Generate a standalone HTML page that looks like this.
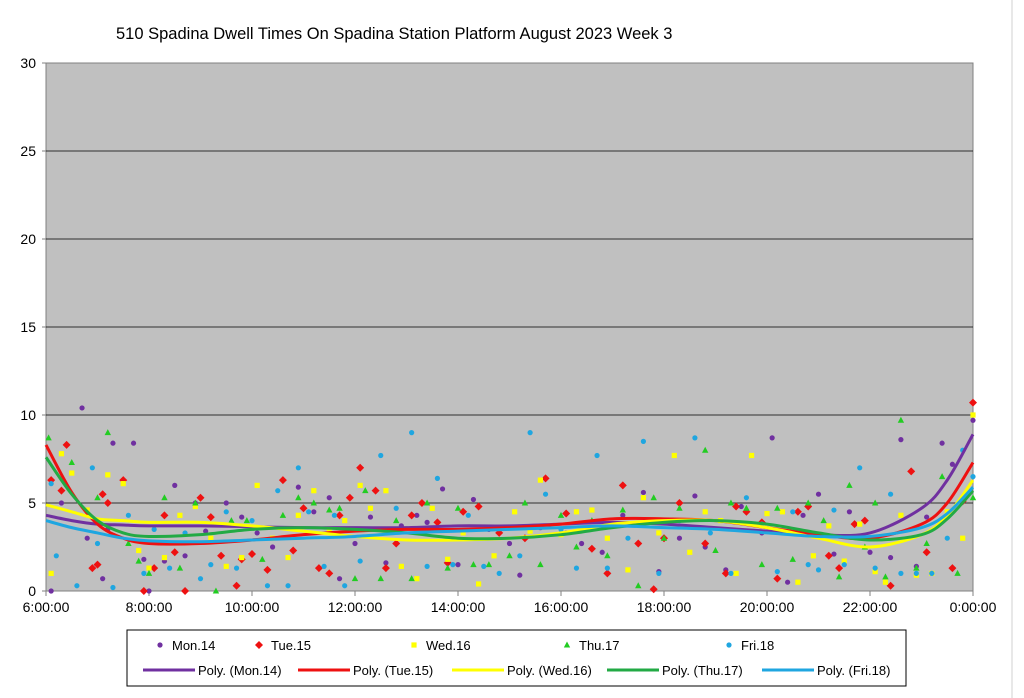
<!DOCTYPE html>
<html><head><meta charset="utf-8"><style>
body{margin:0;background:#fff;font-family:"Liberation Sans",Arial,sans-serif}
svg{display:block}
</style></head><body>
<svg id="chart" width="1024" height="698" viewBox="0 0 1024 698" xmlns="http://www.w3.org/2000/svg">
<rect x="0" y="0" width="1024" height="698" fill="#fff"/>
<line x1="1012" y1="0" x2="1012" y2="698" stroke="#d0d0d0"/>
<text x="116" y="39" font-size="16.5" fill="#000">510 Spadina Dwell Times On Spadina Station Platform August 2023  Week 3</text>
<rect x="46" y="63" width="927" height="528" fill="#c0c0c0" stroke="#808080"/>
<g id="grid"></g><g id="axes"></g><g id="points"></g><g id="trends"></g>
<g>
<rect x="127" y="630" width="779" height="56" fill="#fff" stroke="#000"/>
<g id="legend"></g>
</g>
</svg>
<script>
const yTicks=[0,5,10,15,20,25,30];
const xTickLabels=["6:00:00","8:00:00","10:00:00","12:00:00","14:00:00","16:00:00","18:00:00","20:00:00","22:00:00","0:00:00"];
const xTickHours=[6,8,10,12,14,16,18,20,22,24];
const seriesNames=["Mon.14","Tue.15","Wed.16","Thu.17","Fri.18"];
const monH=[6.1,6.3,6.7,6.8,7.1,7.2,7.3,7.7,7.9,8.0,8.3,8.5,8.7,8.9,9.1,9.5,9.8,10.1,10.4,10.9,11.2,11.5,11.7,12.0,12.3,12.6,12.9,13.2,13.4,13.7,14.0,14.3,14.6,15.0,15.2,15.6,16.1,16.4,16.8,17.2,17.6,17.9,18.3,18.6,18.8,19.2,19.5,19.9,20.1,20.4,20.7,21.0,21.3,21.6,22.0,22.4,22.6,22.9,23.1,23.4,23.6,23.8,24.0];
const monV=[0,5.0,10.4,3.0,0.7,3.5,8.4,8.4,1.8,0,1.7,6.0,2.0,5.0,3.4,5.0,4.2,3.3,2.5,5.9,4.5,5.3,0.7,2.7,4.2,1.6,3.7,4.3,3.9,5.8,1.5,5.2,3.5,2.7,0.9,3.6,3.3,2.7,2.2,4.3,5.6,1.1,3.0,5.4,2.5,1.2,4.8,3.3,8.7,0.5,4.3,5.5,2.1,4.5,2.2,1.9,8.6,1.4,4.2,8.4,7.2,5.1,9.7];
const tueH=[6.1,6.3,6.4,6.9,7.0,7.1,7.2,7.5,7.9,8.1,8.3,8.5,8.7,9.0,9.2,9.4,9.7,9.8,10.0,10.3,10.6,10.8,11.0,11.3,11.5,11.7,11.9,12.1,12.4,12.6,12.8,13.1,13.3,13.6,13.8,14.1,14.4,14.8,15.3,15.7,16.1,16.6,16.9,17.2,17.5,17.8,18.0,18.3,18.8,19.2,19.4,19.6,19.9,20.2,20.6,20.8,21.2,21.4,21.7,21.9,22.4,22.8,23.1,23.6,23.8,24.0];
const tueV=[6.3,5.7,8.3,1.3,1.5,5.5,5.0,6.3,0,1.3,4.3,2.2,0,5.3,4.2,2.0,0.3,1.8,2.1,1.2,6.3,2.3,4.7,1.3,1.0,4.3,5.3,7.0,5.7,1.3,2.7,4.3,5.0,3.9,1.6,4.5,4.8,3.3,3.0,6.4,4.4,2.4,1.0,6.0,2.7,0.1,3.0,5.0,2.7,1.0,4.8,4.5,3.9,0.7,4.5,4.8,2.0,1.3,3.8,4.0,0.3,6.8,2.2,1.3,5.1,10.7];
const wedH=[6.1,6.3,6.5,6.8,7.2,7.5,7.8,8.0,8.3,8.6,8.9,9.2,9.5,9.8,10.1,10.4,10.7,10.9,11.2,11.5,11.8,12.1,12.3,12.6,12.9,13.2,13.5,13.8,14.1,14.4,14.7,15.1,15.4,15.6,16.0,16.3,16.6,16.9,17.3,17.6,17.9,18.2,18.5,18.8,19.1,19.4,19.7,20.0,20.3,20.6,20.9,21.2,21.5,21.8,22.1,22.3,22.6,22.9,23.2,23.5,23.8,24.0];
const wedV=[1.0,7.8,6.7,4.6,6.6,6.1,2.3,1.3,1.9,4.3,4.8,3.0,1.4,1.9,6.0,3.0,1.9,4.3,5.7,3.4,4.0,6.0,4.7,5.7,1.4,0.7,4.7,1.8,3.3,0.4,2.0,4.5,3.4,6.3,3.2,4.5,4.6,3.0,1.2,5.3,3.3,7.7,2.2,4.5,4.0,1.0,7.7,4.4,4.5,0.5,2.0,3.7,1.7,3.8,1.1,0.5,4.3,0.9,1.0,4.5,3.0,10.0];
const thuH=[6.05,6.5,7.0,7.2,7.6,7.8,8.0,8.3,8.6,8.9,9.3,9.6,9.9,10.2,10.6,10.9,11.2,11.5,11.7,12.0,12.2,12.5,12.8,13.1,13.4,13.8,14.0,14.3,14.6,15.0,15.3,15.6,16.0,16.3,16.6,16.9,17.2,17.5,17.8,18.0,18.3,18.8,19.0,19.3,19.6,19.9,20.2,20.5,20.8,21.1,21.4,21.6,21.9,22.1,22.3,22.6,22.9,23.1,23.4,23.7,24.0];
const thuV=[8.7,7.3,5.3,9.0,2.7,1.7,1.0,5.3,1.3,5.0,0,4.0,4.0,1.8,4.3,5.3,5.0,4.6,4.7,0.7,5.7,0.7,4.0,0.7,5.0,1.3,4.7,1.5,1.5,2.0,5.0,1.5,4.3,2.5,4.0,2.0,4.6,0.3,5.3,3.0,4.7,8.0,2.3,5.0,4.7,1.5,4.7,1.8,5.0,4.0,0.8,6.0,2.5,5.0,0.8,9.7,1.3,2.7,6.5,1.0,5.3];
const friH=[6.1,6.2,6.6,6.9,7.0,7.3,7.6,7.9,8.1,8.4,8.7,9.0,9.2,9.5,9.7,10.0,10.3,10.5,10.7,10.9,11.1,11.4,11.6,11.8,12.1,12.5,12.8,13.1,13.4,13.6,13.9,14.2,14.5,14.8,15.2,15.4,15.7,16.0,16.3,16.7,16.9,17.3,17.6,17.9,18.3,18.6,18.9,19.3,19.6,19.9,20.2,20.5,20.8,21.0,21.3,21.5,21.8,22.1,22.4,22.6,22.9,23.2,23.5,23.8,24.0];
const friV=[6.1,2.0,0.3,7.0,2.7,0.2,4.3,1.0,3.5,1.3,3.3,0.7,1.5,4.5,1.3,4.0,0.3,5.7,0.3,7.0,4.5,1.4,4.3,0.3,1.7,7.7,4.7,9.0,1.4,6.4,1.5,4.3,1.4,1.0,2.0,9.0,5.5,3.5,1.3,7.7,1.3,3.0,8.5,1.0,4.0,8.7,3.3,1.0,5.3,3.8,1.1,4.5,1.5,1.2,4.6,1.5,7.0,1.3,5.5,1.0,1.0,1.0,3.0,8.0,6.5];
const trendH=[6,6.5,7,7.5,8,9,10,11,12,13,14,15,16,17,18,19,20,21,22,23,23.5,24];
const monT=[4.3,4.0,3.8,3.75,3.7,3.7,3.65,3.6,3.6,3.6,3.7,3.7,3.8,3.9,3.8,3.6,3.4,3.2,3.3,4.7,6.3,8.9];
const tueT=[8.3,5.6,3.8,3.0,2.7,2.7,2.9,3.2,3.4,3.5,3.5,3.6,3.8,4.1,4.1,4.0,3.6,3.2,3.0,3.8,5.0,7.3];
const wedT=[4.9,4.5,4.1,4.0,3.9,3.9,3.7,3.4,3.1,2.9,2.9,3.0,3.3,3.8,4.0,4.0,3.6,3.0,2.5,3.2,4.3,6.3];
const thuT=[7.6,5.5,4.0,3.3,3.1,3.2,3.5,3.6,3.5,3.3,3.0,3.0,3.2,3.6,3.9,4.0,3.8,3.3,2.9,3.2,4.1,5.7];
const friT=[4.0,3.6,3.3,3.0,2.85,2.8,2.9,3.0,3.1,3.3,3.4,3.5,3.6,3.7,3.6,3.5,3.3,3.1,3.1,3.6,4.4,5.9];

const X0=46,X1=973,Y0=591,Y1=63;
const xs=h=>X0+(h-6)/18*(X1-X0);
const ys=v=>Y0-v/30*(Y0-Y1);
const NS="http://www.w3.org/2000/svg";
function mk(tag,attrs,parent){const e=document.createElementNS(NS,tag);for(const k in attrs)e.setAttribute(k,attrs[k]);parent.appendChild(e);return e;}
const grid=document.getElementById('grid'),axes=document.getElementById('axes');
yTicks.forEach(t=>{
  if(t>0&&t<30){const g=mk('line',{x1:X0,x2:X1,y1:ys(t),y2:ys(t),stroke:'#000','stroke-width':0.8},grid);
  
  }
  const l=mk('text',{x:36,y:ys(t)+5,'font-size':14,'text-anchor':'end'},axes);l.textContent=t;
  
  
  mk('line',{x1:X0-4,x2:X0,y1:ys(t),y2:ys(t),stroke:'#808080'},axes);
});
xTickHours.forEach((h,i)=>{
  mk('line',{x1:xs(h),x2:xs(h),y1:Y0,y2:Y0+5,stroke:'#808080'},axes);
  const l=mk('text',{x:xs(h),y:Y0+21,'font-size':14,'text-anchor':'middle'},axes);l.textContent=xTickLabels[i];
  
  
});
const colors=['#7030a0','#ee1111','#ffff00','#22cc22','#1fa6e0'];
const trendColors=['#7030a0','#ee1111','#ffff00','#22aa44','#1fa6e0'];
const shapes=['circle','diamond','square','triangle','circle'];
function marker(shape,x,y,c,p){
  if(shape==='circle')return mk('circle',{cx:x,cy:y,r:2.6,fill:c},p);
  if(shape==='diamond')return mk('polygon',{points:`${x},${y-4} ${x+4},${y} ${x},${y+4} ${x-4},${y}`,fill:c},p);
  if(shape==='square')return mk('rect',{x:x-2.6,y:y-2.6,width:5.2,height:5.2,fill:c},p);
  return mk('polygon',{points:`${x},${y-3.5} ${x+3.2},${y+2.5} ${x-3.2},${y+2.5}`,fill:c},p);
}
const pts=document.getElementById('points');
const H=[monH,tueH,wedH,thuH,friH],V=[monV,tueV,wedV,thuV,friV],T=[monT,tueT,wedT,thuT,friT];
H.forEach((hs,s)=>{hs.forEach((h,i)=>{const m=marker(shapes[s],xs(h),ys(V[s][i]),colors[s],pts);
  
  });});
function smooth(p){let d=`M${p[0][0]},${p[0][1]}`;for(let i=0;i<p.length-1;i++){const a=p[Math.max(0,i-1)],b=p[i],c=p[i+1],e=p[Math.min(p.length-1,i+2)];
 d+=` C${b[0]+(c[0]-a[0])/6},${b[1]+(c[1]-a[1])/6} ${c[0]-(e[0]-b[0])/6},${c[1]-(e[1]-b[1])/6} ${c[0]},${c[1]}`;}return d;}
const tr=document.getElementById('trends');
T.forEach((vals,s)=>{const p=mk('path',{d:smooth(trendH.map((h,i)=>[xs(h),ys(vals[i])])),fill:'none',stroke:trendColors[s],'stroke-width':3},tr);
  
  });
const lg=document.getElementById('legend');
const mx=[160,259,414,567,729];
const lx=[143,298,452,607,762];
seriesNames.forEach((n,s)=>{
  const g=mk('g',{},lg);
  
  
  marker(shapes[s],mx[s],645,colors[s],g);
  const t=mk('text',{x:mx[s]+12,y:650,'font-size':13},g);t.textContent=n;
  const g2=mk('g',{},lg);
  
  
  mk('line',{x1:lx[s],x2:lx[s]+52,y1:670,y2:670,stroke:trendColors[s],'stroke-width':3},g2);
  const t2=mk('text',{x:lx[s]+55,y:675,'font-size':13},g2);t2.textContent='Poly. ('+n+')';
});
</script>
</body></html>
